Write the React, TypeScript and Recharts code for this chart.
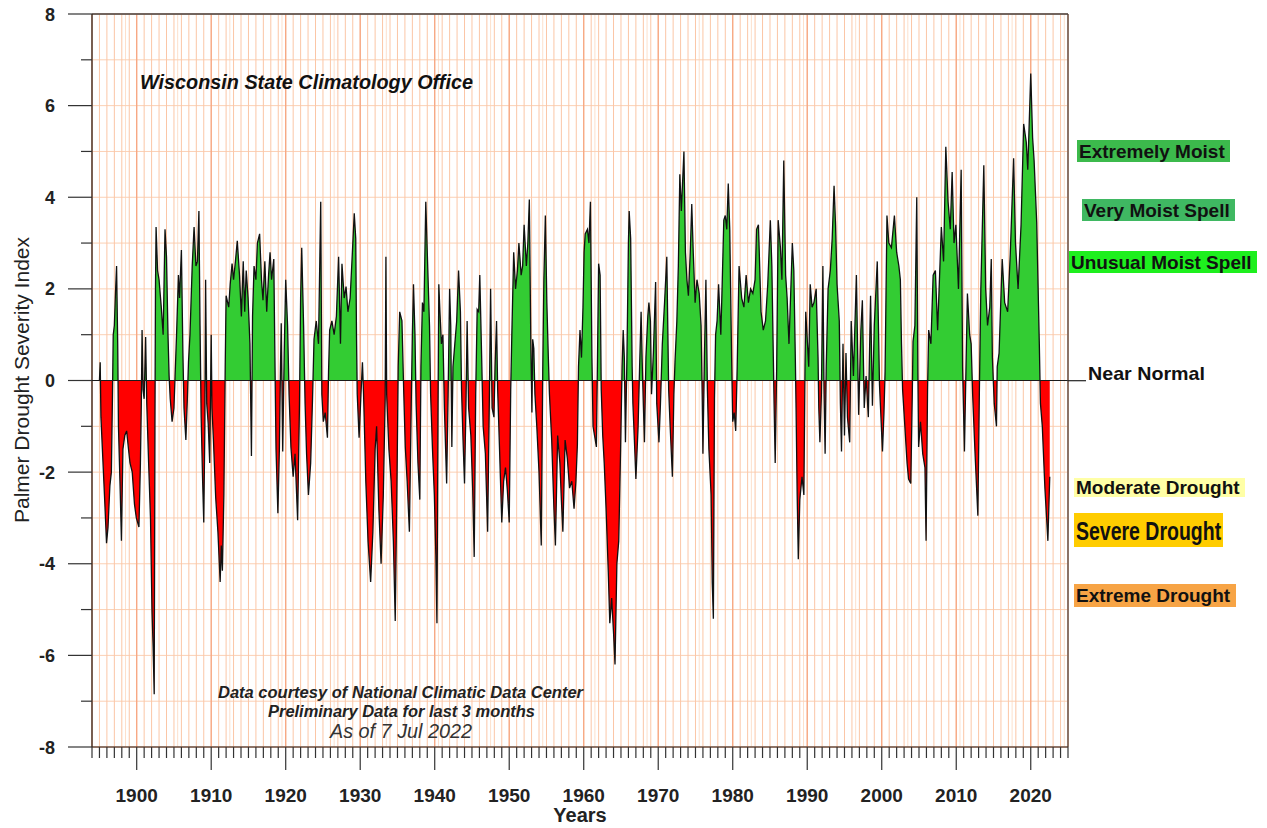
import React from "react";
import {
  AreaChart,
  Area,
  XAxis,
  YAxis,
  CartesianGrid,
  ReferenceLine,
} from "recharts";

const FONT = "'Liberation Sans', Arial, Helvetica, sans-serif";

// PDSI readings [decimal year, index]
const readings1895: [number, number][] = [
  [1895.0, 0.0], [1895.1, 0.4], [1895.2, -0.8], [1895.45, -1.7], [1895.7, -2.6],
  [1895.95, -3.55], [1896.15, -3.2], [1896.4, -2.3], [1896.6, -2.0], [1896.75, -0.3],
  [1896.85, 1.0], [1897.0, 1.2], [1897.15, 1.9], [1897.3, 2.5], [1897.45, 0.8],
  [1897.55, -1.0], [1897.8, -2.5], [1897.95, -3.5], [1898.15, -1.5], [1898.4, -1.2],
  [1898.65, -1.1], [1898.9, -1.5], [1899.1, -1.8], [1899.4, -2.0], [1899.7, -2.7],
  [1899.95, -3.0], [1900.3, -3.2], [1900.5, -1.8], [1900.62, -0.5], [1900.72, 1.1],
  [1900.85, -0.2], [1901.0, -0.4], [1901.2, 0.95], [1901.35, -0.5], [1901.6, -1.8],
  [1901.85, -3.0], [1902.05, -5.0], [1902.2, -5.8], [1902.35, -6.85], [1902.45, -1.0],
  [1902.52, 2.0], [1902.6, 3.35], [1902.8, 2.4], [1903.0, 2.2], [1903.3, 1.6],
  [1903.55, 1.0], [1903.8, 3.3], [1904.0, 2.7], [1904.2, 1.0], [1904.35, 0.1],
  [1904.5, -0.4], [1904.75, -0.9], [1905.0, -0.6], [1905.15, 0.1], [1905.35, 1.0],
  [1905.6, 2.3], [1905.75, 1.8], [1906.0, 2.85], [1906.2, 0.6], [1906.35, -0.6],
  [1906.6, -1.3], [1906.8, -0.4], [1906.95, 0.4], [1907.15, 1.0], [1907.45, 2.5],
  [1907.7, 3.35], [1907.95, 2.5], [1908.15, 2.6], [1908.35, 3.7], [1908.5, 1.2],
  [1908.65, -0.8], [1908.85, -2.2], [1909.0, -3.1], [1909.15, -1.0], [1909.25, 2.2],
  [1909.4, -0.5], [1909.6, -0.95], [1909.8, -1.8], [1909.95, 0.3], [1910.0, 1.0],
  [1910.1, -0.6], [1910.3, -1.3], [1910.6, -2.55], [1910.9, -3.3], [1911.2, -4.4],
  [1911.35, -3.6], [1911.5, -4.15], [1911.7, -2.5], [1911.88, 0.3], [1912.0, 1.85],
  [1912.35, 1.6], [1912.55, 2.1], [1912.8, 2.55], [1913.0, 2.2], [1913.25, 2.6],
  [1913.5, 3.05], [1913.8, 2.3], [1914.05, 1.4], [1914.3, 2.6], [1914.5, 1.5],
  [1914.7, 2.4], [1914.95, 1.8], [1915.2, 0.8], [1915.4, -1.65], [1915.55, 1.4],
  [1915.75, 2.5], [1916.0, 2.2], [1916.2, 3.0], [1916.5, 3.2], [1916.75, 2.2],
  [1916.95, 1.75], [1917.2, 2.6], [1917.45, 1.5], [1917.7, 2.3], [1917.9, 2.8],
  [1918.1, 2.2], [1918.4, 2.65], [1918.55, 0.5], [1918.7, -1.5], [1918.95, -2.9],
  [1919.15, -1.5], [1919.3, 0.3], [1919.4, 1.25], [1919.6, -1.55], [1919.8, 0.6],
  [1920.0, 2.2], [1920.25, 1.2], [1920.45, -0.3], [1920.7, -1.45], [1921.0, -2.1],
  [1921.25, -1.6], [1921.6, -3.05], [1921.85, -0.5], [1922.0, 1.8], [1922.15, 2.9],
  [1922.4, 1.2], [1922.6, -0.5], [1922.8, -1.6], [1923.05, -2.5], [1923.35, -1.8],
  [1923.6, -0.4], [1923.8, 0.9], [1924.1, 1.3], [1924.4, 0.8], [1924.7, 3.9],
];

const readings1925: [number, number][] = [
  [1924.85, -0.3], [1925.05, -0.9], [1925.3, -0.7], [1925.6, -1.25], [1925.75, 0.2],
  [1925.9, 1.1], [1926.2, 1.3], [1926.5, 1.0], [1926.8, 1.4], [1927.1, 2.7],
  [1927.35, 0.8], [1927.55, 2.55], [1927.85, 1.8], [1928.1, 2.05], [1928.35, 1.5],
  [1928.65, 1.8], [1928.95, 2.8], [1929.2, 3.65], [1929.4, 3.1], [1929.5, 1.0],
  [1929.6, -0.3], [1929.85, -1.25], [1930.1, -0.3], [1930.3, 0.4], [1930.45, -0.3],
  [1930.75, -2.2], [1931.05, -3.5], [1931.4, -4.4], [1931.7, -3.3], [1932.0, -1.5],
  [1932.2, -1.0], [1932.5, -2.8], [1932.8, -4.0], [1933.1, -2.5], [1933.35, -0.4],
  [1933.45, 2.7], [1933.55, -0.3], [1933.85, -1.5], [1934.15, -2.2], [1934.45, -3.5],
  [1934.7, -5.25], [1934.95, -2.0], [1935.1, 0.3], [1935.3, 1.5], [1935.6, 1.3],
  [1935.85, -0.3], [1936.05, -1.45], [1936.3, -2.2], [1936.6, -3.3], [1936.85, -0.5],
  [1937.0, 1.0], [1937.15, 2.1], [1937.35, 1.0], [1937.5, -0.5], [1937.75, -1.8],
  [1938.0, -2.6], [1938.15, 0.3], [1938.35, 1.7], [1938.55, 1.5], [1938.8, 3.9],
  [1939.0, 2.8], [1939.3, 1.2], [1939.45, -0.3], [1939.7, -1.5], [1939.95, -2.5],
  [1940.15, -3.8], [1940.3, -5.3], [1940.45, -0.5], [1940.55, 2.1], [1940.7, 1.5],
  [1940.9, 0.8], [1941.1, 1.0], [1941.3, -0.6], [1941.6, -2.25], [1941.8, -0.3],
  [1942.0, 2.0], [1942.15, 1.2], [1942.3, -1.45], [1942.45, 0.3], [1942.7, 0.8],
  [1942.95, 1.3], [1943.2, 2.4], [1943.45, 1.5], [1943.6, -0.2], [1943.8, -1.3],
  [1944.0, -2.25], [1944.2, -0.5], [1944.35, 1.3], [1944.55, -0.6], [1944.85, -1.2],
  [1945.1, -2.4], [1945.3, -3.85], [1945.5, -0.3], [1945.7, 1.55], [1945.9, 1.5],
  [1946.05, 2.3], [1946.3, 0.5], [1946.5, -1.0], [1946.8, -1.6], [1947.1, -3.3],
  [1947.35, -0.2], [1947.5, 2.0], [1947.7, -0.6], [1947.95, -0.8], [1948.1, 0.3],
  [1948.3, 1.3], [1948.45, -0.2], [1948.7, -1.5], [1949.0, -3.1], [1949.25, -2.2],
  [1949.5, -1.9], [1949.75, -2.4], [1950.0, -3.1], [1950.2, -0.2], [1950.35, 1.0],
  [1950.6, 2.8], [1950.85, 2.0], [1951.1, 2.4], [1951.3, 3.0], [1951.6, 2.3],
  [1951.8, 2.5], [1952.0, 3.4], [1952.3, 2.5], [1952.5, 3.0], [1952.7, 3.95],
  [1952.9, 0.8], [1953.05, -0.7], [1953.15, 0.9], [1953.3, 0.7], [1953.45, -0.3],
  [1953.7, -1.0], [1954.0, -2.0], [1954.3, -3.6], [1954.5, 0.2], [1954.65, 2.2],
  [1954.85, 3.6], [1955.05, 1.7], [1955.25, 0.5],
];

const readings1955: [number, number][] = [
  [1955.4, -0.3], [1955.7, -1.3], [1956.0, -2.8], [1956.2, -3.6], [1956.5, -1.2],
  [1956.8, -1.8], [1957.0, -2.6], [1957.2, -3.3], [1957.5, -1.3], [1957.8, -1.7],
  [1958.1, -2.35], [1958.4, -2.2], [1958.7, -2.8], [1958.95, -2.2], [1959.15, -1.4],
  [1959.3, 0.3], [1959.5, 1.1], [1959.7, 0.5], [1959.9, 1.6], [1960.05, 2.8],
  [1960.2, 3.2], [1960.5, 3.3], [1960.7, 3.0], [1960.9, 3.9], [1961.1, 0.5],
  [1961.25, -1.0], [1961.45, -1.2], [1961.7, -1.45], [1961.85, 0.5], [1962.0, 2.55],
  [1962.2, 2.3], [1962.35, -0.2], [1962.55, -1.2], [1962.75, -1.8], [1963.0, -2.8],
  [1963.3, -4.2], [1963.5, -5.3], [1963.75, -4.75], [1964.0, -5.5], [1964.2, -6.2],
  [1964.45, -4.0], [1964.7, -3.5], [1964.95, -1.5], [1965.15, 0.3], [1965.3, 1.1],
  [1965.45, 0.5], [1965.6, -1.35], [1965.8, 0.5], [1966.0, 3.0], [1966.1, 3.7],
  [1966.3, 3.1], [1966.5, 0.3], [1966.6, -0.5], [1966.8, -1.3], [1967.0, -2.15],
  [1967.3, -1.0], [1967.5, 0.3], [1967.7, 1.5], [1967.85, 0.4], [1968.0, -0.5],
  [1968.15, -1.35], [1968.35, 0.5], [1968.6, 1.4], [1968.75, 1.7], [1968.95, 1.3],
  [1969.1, -0.3], [1969.35, 0.6], [1969.65, 2.15], [1969.8, -0.5], [1970.1, -1.35],
  [1970.3, -0.5], [1970.55, 0.8], [1970.85, 1.7], [1971.15, 2.7], [1971.4, -0.2],
  [1971.6, -1.0], [1971.9, -2.1], [1972.1, -0.3], [1972.25, 0.4], [1972.5, 1.3],
  [1972.7, 2.5], [1972.9, 4.5], [1973.1, 3.7], [1973.45, 5.0], [1973.65, 2.8],
  [1973.85, 2.2], [1974.05, 1.85], [1974.3, 2.8], [1974.5, 3.85], [1974.7, 2.8],
  [1974.95, 1.7], [1975.2, 2.2], [1975.5, 1.9], [1975.75, 1.2], [1975.9, -0.3],
  [1976.0, -1.6], [1976.2, 0.5], [1976.4, 2.2], [1976.6, -0.2], [1976.8, -1.5],
  [1977.1, -2.5], [1977.25, -4.4], [1977.4, -5.2], [1977.55, -0.4], [1977.7, 1.0],
  [1977.9, 1.3], [1978.1, 2.1], [1978.4, 1.0], [1978.6, 2.2], [1978.8, 3.5],
  [1979.0, 3.6], [1979.2, 3.3], [1979.4, 4.3], [1979.6, 3.3], [1979.85, 0.5],
  [1980.0, -0.9], [1980.2, -0.7], [1980.4, -1.1], [1980.6, 0.3], [1980.85, 2.5],
  [1981.2, 1.8], [1981.5, 1.6], [1981.8, 2.3], [1982.1, 1.7], [1982.4, 2.0],
  [1982.7, 1.9], [1983.0, 2.2], [1983.2, 3.3], [1983.45, 3.4], [1983.8, 1.5],
  [1984.1, 1.1], [1984.4, 1.3], [1984.7, 2.1],
];

const readings1985: [number, number][] = [
  [1985.05, 3.5], [1985.25, 2.5], [1985.45, 0.5], [1985.55, -0.5], [1985.7, -1.8],
  [1985.9, 0.3], [1986.1, 3.5], [1986.4, 2.9], [1986.6, 2.2], [1986.85, 4.8],
  [1987.1, 2.3], [1987.3, 1.8], [1987.55, 0.8], [1987.8, 2.0], [1988.0, 3.0],
  [1988.2, 2.4], [1988.4, 0.5], [1988.5, -0.6], [1988.65, -2.5], [1988.8, -3.9],
  [1989.0, -2.6], [1989.3, -2.1], [1989.55, -2.5], [1989.7, 0.3], [1989.8, 1.5],
  [1990.0, 0.9], [1990.2, 0.3], [1990.4, 2.1], [1990.65, 1.6], [1990.9, 1.7],
  [1991.2, 2.0], [1991.45, 0.5], [1991.55, -0.6], [1991.7, -1.35], [1991.9, -0.3],
  [1992.1, 2.5], [1992.25, -0.2], [1992.4, -1.6], [1992.55, 0.3], [1992.8, 2.0],
  [1993.1, 2.4], [1993.35, 3.1], [1993.6, 4.25], [1993.8, 3.4], [1994.0, 2.1],
  [1994.3, 1.3], [1994.45, -0.5], [1994.6, -1.55], [1994.8, 0.8], [1995.0, -1.2],
  [1995.2, 0.6], [1995.4, -0.8], [1995.7, -1.35], [1995.9, 1.3], [1996.2, 0.1],
  [1996.6, 2.3], [1996.9, -0.75], [1997.2, 1.1], [1997.4, 1.75], [1997.65, -0.6],
  [1997.9, 0.1], [1998.2, -0.8], [1998.5, 1.85], [1998.75, -0.55], [1999.0, 1.2],
  [1999.4, 2.6], [1999.7, -0.1], [2000.1, -1.55], [2000.3, -0.7], [2000.45, 0.2],
  [2000.7, 3.6], [2000.95, 3.0], [2001.3, 2.9], [2001.7, 3.6], [2002.0, 2.8],
  [2002.3, 2.5], [2002.5, 2.2], [2002.65, 0.8], [2002.8, -0.2], [2003.1, -1.0],
  [2003.4, -1.8], [2003.6, -2.15], [2003.9, -2.25], [2004.1, -0.3], [2004.2, 0.85],
  [2004.45, 1.2], [2004.7, 4.0], [2004.85, 0.2], [2004.95, -1.45], [2005.2, -0.9],
  [2005.5, -1.6], [2005.8, -1.9], [2005.95, -3.5], [2006.15, -0.2], [2006.3, 1.1],
  [2006.6, 0.8], [2006.9, 2.3], [2007.2, 2.4], [2007.5, 1.1], [2008.0, 3.35],
  [2008.3, 2.6], [2008.6, 5.1], [2008.9, 3.9], [2009.2, 3.3], [2009.45, 4.55],
  [2009.7, 3.0], [2009.95, 3.4], [2010.3, 2.0], [2010.66, 4.6], [2010.85, 0.3],
  [2011.1, -1.55], [2011.3, 0.2], [2011.5, 1.9], [2011.8, 1.0], [2012.0, 0.8],
  [2012.2, -0.3], [2012.5, -1.5], [2012.9, -2.95], [2013.1, -0.3], [2013.3, 2.0],
  [2013.7, 4.7], [2013.95, 2.0], [2014.2, 1.2], [2014.5, 1.6], [2014.7, 2.65],
  [2014.85, 0.5], [2015.1, -0.5], [2015.4, -1.0], [2015.5, 0.3], [2015.75, 0.6],
  [2016.17, 2.65], [2016.5, 1.7], [2016.9, 1.5], [2017.25, 2.75], [2017.7, 4.85],
  [2017.95, 3.0], [2018.3, 2.0], [2018.7, 3.4], [2019.05, 5.6], [2019.4, 5.2],
  [2019.6, 4.6], [2020.0, 6.7], [2020.25, 5.3], [2020.45, 4.8], [2020.8, 3.45],
  [2021.15, 0.8], [2021.3, -0.5], [2021.55, -1.0], [2021.9, -2.35], [2022.3, -3.5],
  [2022.55, -2.1],
];

const decadeLabels = [1900, 1910, 1920, 1930, 1940, 1950, 1960, 1970, 1980, 1990, 2000, 2010, 2020];
const yLabels = [-8, -6, -4, -2, 0, 2, 4, 6, 8];

const X_MIN = 1894;
const X_MAX = 2025;

const yearTicks: number[] = [];
for (let yr = X_MIN; yr <= X_MAX; yr++) yearTicks.push(yr);
const halfTicks: number[] = [];
for (let yr = X_MIN; yr < X_MAX; yr++) halfTicks.push(yr + 0.5);
const yTicks: number[] = [];
for (let v = -8; v <= 8; v++) yTicks.push(v);

const data = [...readings1895, ...readings1925, ...readings1955, ...readings1985].map(
  ([t, v]) => ({ t, v })
);

const values = data.map((d) => d.v);
const vMax = Math.max(...values);
const vMin = Math.min(...values);
const split = vMax / (vMax - vMin);

const XTick = (props: any) => {
  const { x, y, payload } = props;
  const major = decadeLabels.includes(payload.value);
  return (
    <g>
      <line x1={x} x2={x} y1={y} y2={y + (major ? 23 : 11)} stroke="#333" strokeWidth={1.2} />
      {major && (
        <text x={x} y={y + 55} textAnchor="middle" fontSize={19} fontWeight="bold" fill="#222" fontFamily={FONT}>
          {payload.value}
        </text>
      )}
    </g>
  );
};

const YTick = (props: any) => {
  const { x, y, payload } = props;
  const major = yLabels.includes(payload.value);
  return (
    <g>
      <line x1={x - (major ? 24 : 11)} x2={x} y1={y} y2={y} stroke="#333" strokeWidth={1.2} />
      {major && (
        <text x={x - 37} y={y + 6.5} textAnchor="end" fontSize={18} fontWeight="bold" fill="#222" fontFamily={FONT}>
          {payload.value}
        </text>
      )}
    </g>
  );
};

// right-hand legend boxes (sx squeezes the narrow "Severe Drought" face)
const classBoxes = [
  { label: "Extremely Moist", x: 1077, y: 140, w: 153, h: 22, fill: "#3cba4c", base: 157.5, size: 19, sx: 1 },
  { label: "Very Moist Spell", x: 1082, y: 199, w: 153, h: 22, fill: "#3fb862", base: 217, size: 19, sx: 1 },
  { label: "Unusual Moist Spell", x: 1069, y: 251, w: 188, h: 22, fill: "#1eef1e", base: 268.5, size: 19, sx: 1 },
  { label: "Moderate Drought", x: 1074, y: 478, w: 171, h: 19, fill: "#ffffa6", base: 493.5, size: 19, sx: 1 },
  { label: "Severe Drought", x: 1074, y: 513, w: 149, h: 34, fill: "#ffcc00", base: 540, size: 26, sx: 0.75 },
  { label: "Extreme Drought", x: 1074, y: 584, w: 162, h: 23, fill: "#f7a445", base: 601.5, size: 19, sx: 1 },
];

export default function App() {
  return (
    <div style={{ position: "absolute", left: 0, top: 0, width: 1267, height: 828, background: "#fff" }}>
      <AreaChart
        width={1267}
        height={828}
        data={data}
        margin={{ top: 14, right: 199, bottom: 0, left: 0 }}
      >
        <defs>
          <linearGradient id="pdsiSplit" x1="0" y1="0" x2="0" y2="1">
            <stop offset={split} stopColor="#33cc33" />
            <stop offset={split} stopColor="#ff0000" />
          </linearGradient>
        </defs>
        <XAxis xAxisId="half" type="number" dataKey="t" domain={[X_MIN, X_MAX]} ticks={halfTicks} hide />
        <XAxis xAxisId="decade" type="number" dataKey="t" domain={[X_MIN, X_MAX]} ticks={decadeLabels} hide />
        <YAxis yAxisId="even" type="number" domain={[-8, 8]} ticks={yLabels} hide />
        <CartesianGrid xAxisId="half" horizontal={false} stroke="#fde0cc" strokeWidth={1} />
        <CartesianGrid vertical={false} stroke="#fbd0b4" strokeWidth={1} />
        <CartesianGrid horizontal={false} stroke="#fbc6a6" strokeWidth={1} />
        <CartesianGrid xAxisId="decade" horizontal={false} stroke="#f6a47e" strokeWidth={1.2} />
        <CartesianGrid yAxisId="even" vertical={false} stroke="#f7a882" strokeWidth={1.2} />
        <XAxis
          type="number"
          dataKey="t"
          domain={[X_MIN, X_MAX]}
          ticks={yearTicks}
          interval={0}
          height={81}
          tickSize={0}
          tickMargin={0}
          tickLine={false}
          axisLine={{ stroke: "#222", strokeWidth: 1.2 }}
          tick={<XTick />}
        />
        <YAxis
          type="number"
          domain={[-8, 8]}
          ticks={yTicks}
          interval={0}
          width={92}
          tickSize={0}
          tickMargin={0}
          tickLine={false}
          axisLine={{ stroke: "#222", strokeWidth: 1.2 }}
          tick={<YTick />}
        />
        <Area
          type="linear"
          dataKey="v"
          baseValue={0}
          stroke="#111"
          strokeWidth={1.3}
          fill="url(#pdsiSplit)"
          fillOpacity={1}
          dot={false}
          activeDot={false}
          isAnimationActive={false}
        />
        <ReferenceLine y={0} stroke="#1a1a1a" strokeWidth={1.2} />
        <ReferenceLine y={8} stroke="#444" strokeWidth={1.5} />
        <ReferenceLine x={X_MAX} stroke="#444" strokeWidth={1.2} />
      </AreaChart>

      <svg
        width={1267}
        height={828}
        style={{ position: "absolute", left: 0, top: 0, pointerEvents: "none" }}
        fontFamily={FONT}
      >
        <text x={140} y={89} fontSize={19.5} fontWeight="bold" fontStyle="italic" fill="#111" textLength={333} lengthAdjust="spacingAndGlyphs">
          Wisconsin State Climatology Office
        </text>
        <text x={218} y={698} fontSize={16} fontWeight="bold" fontStyle="italic" fill="#222" textLength={365} lengthAdjust="spacingAndGlyphs">
          Data courtesy of National Climatic Data Center
        </text>
        <text x={268} y={717} fontSize={16} fontWeight="bold" fontStyle="italic" fill="#222" textLength={267} lengthAdjust="spacingAndGlyphs">
          Preliminary Data for last 3 months
        </text>
        <text x={330} y={738} fontSize={19.5} fontStyle="italic" fill="#333" textLength={142} lengthAdjust="spacingAndGlyphs">
          As of 7 Jul 2022
        </text>
        <text x={580} y={822} textAnchor="middle" fontSize={20} fontWeight="bold" fill="#222">
          Years
        </text>
        <text
          transform="translate(29,380) rotate(-90)"
          textAnchor="middle"
          fontSize={20}
          fill="#222"
          textLength={286}
          lengthAdjust="spacingAndGlyphs"
        >
          Palmer Drought Severity Index
        </text>
        <line x1={1068} x2={1086} y1={380.7} y2={380.7} stroke="#222" strokeWidth={1.2} />
        <text x={1088} y={380} fontSize={19} fontWeight="bold" fill="#111" textLength={117} lengthAdjust="spacingAndGlyphs">
          Near Normal
        </text>
        {classBoxes.map((b) => (
          <g key={b.label}>
            <rect x={b.x} y={b.y} width={b.w} height={b.h} fill={b.fill} />
            <text
              transform={`translate(${b.x + 2},${b.base}) scale(${b.sx},1)`}
              fontSize={b.size}
              fontWeight="bold"
              fill="#111"
            >
              {b.label}
            </text>
          </g>
        ))}
      </svg>
    </div>
  );
}
